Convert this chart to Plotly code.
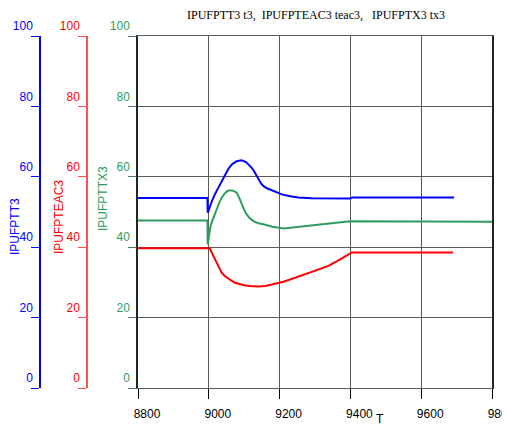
import plotly.graph_objects as go

# ---- data ----
t_blue = [8800, 8996, 8997, 9003, 9010, 9017, 9025, 9032, 9040, 9046, 9055, 9065, 9078, 9093,
          9105, 9116, 9124, 9130, 9140, 9147, 9154, 9163, 9173, 9190, 9206, 9230, 9253, 9290,
          9328, 9400, 9405, 9693]
v_blue = [54.0, 54.0, 49.8, 51.7, 53.4, 55.0, 56.5, 57.8, 59.5, 60.7, 62.2, 63.5, 64.4, 64.7,
          64.2, 63.1, 62.2, 61.2, 59.3, 58.2, 57.4, 56.8, 56.4, 55.6, 55.0, 54.5, 54.1, 53.9,
          53.8, 53.8, 54.1, 54.1]

t_green = [8800, 8996, 8997, 9001, 9004, 9008, 9015, 9022, 9029, 9036, 9045, 9052, 9060, 9070,
           9079, 9086, 9093, 9100, 9107, 9116, 9126, 9140, 9154, 9180, 9211, 9240, 9276, 9328,
           9360, 9399, 9600, 9800]
v_green = [47.6, 47.6, 40.8, 43.6, 45.5, 47.0, 49.0, 50.7, 52.5, 54.0, 55.3, 55.9, 56.2, 56.0,
           55.5, 54.0, 52.2, 50.6, 49.3, 48.2, 47.4, 46.8, 46.5, 45.8, 45.3, 45.6, 46.0, 46.6,
           47.0, 47.4, 47.3, 47.2]

t_red = [8800, 9003, 9009, 9015, 9025, 9036, 9045, 9055, 9065, 9074, 9087, 9100, 9115, 9140,
         9160, 9178, 9195, 9211, 9240, 9272, 9305, 9338, 9370, 9404, 9690]
v_red = [39.7, 39.7, 38.3, 37.0, 34.7, 32.8, 31.8, 31.0, 30.4, 29.9, 29.5, 29.2, 29.0, 28.8,
         29.0, 29.4, 29.8, 30.2, 31.2, 32.3, 33.5, 34.7, 36.5, 38.5, 38.5]

x_ticks = [8800, 9000, 9200, 9400, 9600, 9800]
x_tick_labels = ["8800", "9000", "9200", "9400", "9600", "9800"]
y_ticks = [0, 20, 40, 60, 80, 100]

title_text = "IPUFPTT3 t3,  IPUFPTEAC3 teac3,   IPUFPTX3 tx3"

BLUE = "#0000ff"
RED = "#ff0000"
GREEN = "#2e9c5e"

OFF = 8  # page body margin
W, H = 510 - OFF, 425 - OFF
ML, MR, MT, MB = 2, 18, 28, 37
PW = W - ML - MR
PH = H - MT - MB


def px_x(page_px):
    return (page_px - OFF - ML) / PW


def px_y(page_py):
    return (H - MB - (page_py - OFF)) / PH


font = dict(family="Arial, Liberation Sans, sans-serif", size=12)

fig = go.Figure()
fig.add_trace(go.Scatter(x=t_green, y=v_green, mode="lines", line=dict(color=GREEN, width=2),
                         yaxis="y", showlegend=False))
fig.add_trace(go.Scatter(x=t_blue, y=v_blue, mode="lines", line=dict(color=BLUE, width=2),
                         yaxis="y2", showlegend=False))
fig.add_trace(go.Scatter(x=t_red, y=v_red, mode="lines", line=dict(color=RED, width=2),
                         yaxis="y3", showlegend=False))

grid = "#5a5a5a"

fig.update_layout(
    width=W, height=H,
    margin=dict(l=ML, r=MR, t=MT, b=MB, autoexpand=False),
    paper_bgcolor="white", plot_bgcolor="white",
    font=font,
    title=dict(text=title_text, font=dict(family="Liberation Serif, Times New Roman, serif", size=12, color="black"),
               x=px_x(316), xref="paper", xanchor="center", y=1 - (15 - OFF) / H, yref="container", yanchor="middle"),
    xaxis=dict(domain=[px_x(138), 1], range=[8800, 9800], tickvals=x_ticks, ticktext=x_tick_labels,
               ticks="outside", ticklen=10, tickcolor="black", tickwidth=1,
               showgrid=True, gridcolor=grid, gridwidth=1.3,
               showline=True, linecolor=grid, linewidth=1.3, mirror=True,
               zeroline=False, ticklabelshift=9, ticklabelstandoff=4, ticklabeloverflow="allow",
               tickfont=dict(color="black", size=12)),
    yaxis=dict(range=[0, 100], tickvals=y_ticks, anchor="x",
               ticks="outside", ticklen=8, tickcolor="#4a7a5a",
               showgrid=True, gridcolor=grid, gridwidth=1.3,
               showline=True, linecolor="#1a2a1f", linewidth=1.5, mirror=True,
               zeroline=False, ticklabelshift=-10, ticklabelstandoff=-4,
               tickfont=dict(color=GREEN, size=12)),
    yaxis2=dict(range=[0, 100], tickvals=y_ticks, overlaying="y", anchor="free",
                position=px_x(40), side="left",
                ticks="outside", ticklen=8, tickcolor=BLUE,
                showgrid=False, showline=True, linecolor=BLUE, linewidth=1.5,
                zeroline=False, ticklabelshift=-10, ticklabelstandoff=-4,
                tickfont=dict(color=BLUE, size=12)),
    yaxis3=dict(range=[0, 100], tickvals=y_ticks, overlaying="y", anchor="free",
                position=px_x(87), side="left",
                ticks="outside", ticklen=8, tickcolor="#ff5050",
                showgrid=False, showline=True, linecolor="#ff5050", linewidth=1.5,
                zeroline=False, ticklabelshift=-10, ticklabelstandoff=-4,
                tickfont=dict(color=RED, size=12)),
    annotations=[
        dict(text="IPUFPTT3", x=px_x(15), y=px_y(227), xref="paper", yref="paper", textangle=-90,
             showarrow=False, font=dict(color=BLUE, size=12), xanchor="center", yanchor="middle"),
        dict(text="IPUFPTEAC3", x=px_x(59), y=px_y(217), xref="paper", yref="paper", textangle=-90,
             showarrow=False, font=dict(color=RED, size=12), xanchor="center", yanchor="middle"),
        dict(text="IPUFPTTX3", x=px_x(103), y=px_y(199), xref="paper", yref="paper", textangle=-90,
             showarrow=False, font=dict(color=GREEN, size=12), xanchor="center", yanchor="middle"),
        dict(text="T", x=px_x(380), y=px_y(410), xref="paper", yref="paper",
             showarrow=False, font=dict(color="black", size=12), xanchor="center", yanchor="top"),
    ],
)

fig.write_html("out.html")
